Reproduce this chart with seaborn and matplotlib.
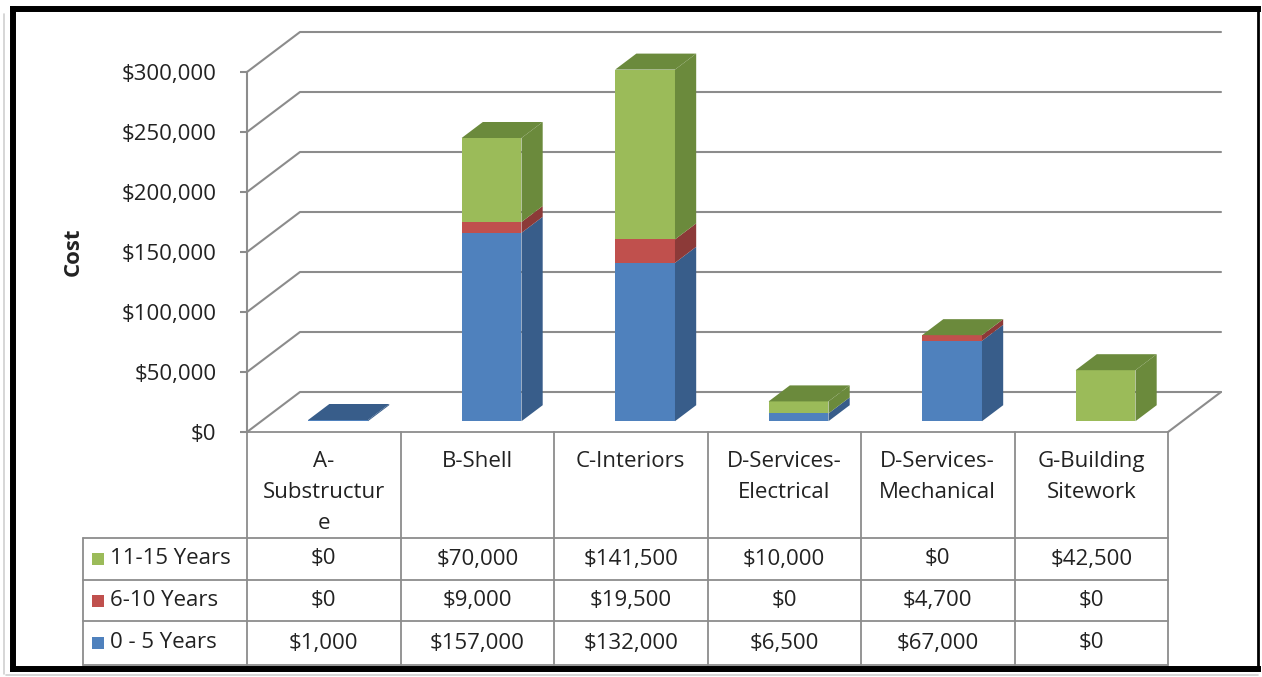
import numpy as np
import pandas as pd
import matplotlib
matplotlib.use("Agg")
import matplotlib.pyplot as plt
import matplotlib.transforms as mtransforms
from matplotlib.patches import Polygon, Rectangle
from matplotlib.lines import Line2D
import seaborn as sns

# ---- data -------------------------------------------------------------
categories = ["A-Substructure", "B-Shell", "C-Interiors",
              "D-Services-Electrical", "D-Services-Mechanical",
              "G-Building Sitework"]
header_labels = ["A-\nSubstructur\ne", "B-Shell", "C-Interiors",
                 "D-Services-\nElectrical", "D-Services-\nMechanical",
                 "G-Building\nSitework"]
# stacking order, bottom to top
series_names = ["0 - 5 Years", "6-10 Years", "11-15 Years"]
cost_0_5 = [1000, 157000, 132000, 6500, 67000, 0]
cost_6_10 = [0, 9000, 19500, 0, 4700, 0]
cost_11_15 = [0, 70000, 141500, 10000, 0, 42500]
y_ticks = [0, 50000, 100000, 150000, 200000, 250000, 300000]

front_colors = ["#4F81BD", "#C0504D", "#9BBB59"]
shade_colors = ["#385D8A", "#8C3A38", "#6B8A3C"]
GRID = "#8C8C8C"
TEXT = "#222222"

# ---- figure layout (pixels) ------------------------------------------
W, H = 1262, 677
sns.set_theme(style="white")
plt.rcParams["font.family"] = ["Open Sans", "DejaVu Sans"]
plt.rcParams["font.size"] = 16

fig = plt.figure(figsize=(W / 100, H / 100), dpi=100)
fig.patch.set_facecolor("white")


def fx(px):
    return px / W


def fy(py):
    return 1 - py / H


PL, PR, PT, PB = 247, 1168, 72, 432          # front plane of the plot
ax = fig.add_axes([fx(PL), fy(PB), (PR - PL) / W, (PB - PT) / H])
ax.set_facecolor("none")

n = len(categories)
stack = np.vstack([cost_0_5, cost_6_10, cost_11_15])
cum = np.cumsum(stack, axis=0)

rows = []
for k, name in enumerate(series_names):
    for i, cat in enumerate(categories):
        rows.append({"category": cat, "series": name, "top": cum[k, i]})
df = pd.DataFrame(rows)

BAR_W = 0.39
sns.barplot(data=df, x="category", y="top", hue="series",
            order=categories, hue_order=series_names[::-1],
            palette=dict(zip(series_names, front_colors)),
            dodge=False, width=BAR_W, errorbar=None, saturation=1,
            linewidth=0, legend=False, zorder=3, ax=ax)

ax.set_xlim(-0.5, n - 0.5)
ax.set_ylim(0, 300000)

# depth of the floor expressed in data units
x_per_px = n / (PR - PL)
y_per_px = 300000 / (PB - PT)
DEPTH_X = 53 * x_per_px
DEPTH_Y = 40 * y_per_px
BAR_FRONT = 0.27
BAR_DEPTH = 0.40

shift = (mtransforms.Affine2D().translate(BAR_FRONT * DEPTH_X,
                                          BAR_FRONT * DEPTH_Y)
         + ax.transData)
for p in ax.patches:
    p.set_transform(shift)
    p.set_clip_on(False)

# side and top faces of each column
bdx, bdy = BAR_DEPTH * DEPTH_X, BAR_DEPTH * DEPTH_Y
half = BAR_W / 2
for i in range(n):
    lo = 0
    for k in range(len(series_names)):
        hi = cum[k, i]
        if hi > lo:
            ax.add_patch(Polygon([(i + half, lo), (i + half, hi),
                                  (i + half + bdx, hi + bdy),
                                  (i + half + bdx, lo + bdy)],
                                 closed=True, fc=shade_colors[k], ec="none",
                                 transform=shift, zorder=3, clip_on=False))
        lo = hi
    # the lid belongs to the highest segment; an empty segment still gets
    # its lid once the column beneath it is tall enough to show
    k_top = 0
    for k in range(len(series_names)):
        if stack[k, i] > 0 or cum[k, i] > 0.02 * 300000:
            k_top = k
    top = cum[k_top, i]
    ax.add_patch(Polygon([(i - half, top), (i + half, top),
                          (i + half + bdx, top + bdy),
                          (i - half + bdx, top + bdy)],
                         closed=True, fc=shade_colors[k_top], ec="none",
                         transform=shift, zorder=3, clip_on=False))

# side wall / back wall gridlines and floor edge
for v in y_ticks:
    ax.plot([-0.5, -0.5 + DEPTH_X, n - 0.5 + DEPTH_X],
            [v, v + DEPTH_Y, v + DEPTH_Y],
            color=GRID, lw=1.5, clip_on=False, zorder=1)
ax.plot([n - 0.5, n - 0.5 + DEPTH_X], [0, DEPTH_Y],
        color=GRID, lw=1.5, clip_on=False, zorder=1)

# value axis
for side in ["top", "right", "bottom"]:
    ax.spines[side].set_visible(False)
ax.spines["left"].set_color(GRID)
ax.spines["left"].set_linewidth(1.5)
ax.set_yticks(y_ticks)
ax.set_yticklabels([f"${v:,.0f}" for v in y_ticks])
ax.tick_params(axis="y", left=True, length=5, width=1.5, color=GRID,
               pad=17, labelcolor=TEXT, labelsize=16)
ax.tick_params(axis="x", bottom=False, labelbottom=False)
ax.set_xlabel("")
ax.set_ylabel("")
fig.text(fx(73), fy(252), "Cost", rotation=90, ha="center", va="center",
         fontweight="bold", fontsize=16, color=TEXT)

# ---- data table -------------------------------------------------------
blend = mtransforms.blended_transform_factory(ax.transData, ax.transAxes)


def ay(py):
    return (PB - py) / (PB - PT)


TABLE_LEFT = -0.5 + (83 - PL) * x_per_px
row_lines = [538, 580, 621, 665]
line_kw = dict(color=GRID, lw=1.3, transform=blend, clip_on=False, zorder=2)

ax.add_line(Line2D([-0.5, n - 0.5], [ay(PB), ay(PB)], **line_kw))
for py in row_lines:
    ax.add_line(Line2D([TABLE_LEFT, n - 0.5], [ay(py), ay(py)], **line_kw))
for i in range(n + 1):
    ax.add_line(Line2D([i - 0.5, i - 0.5], [ay(PB), ay(row_lines[-1])],
                       **line_kw))
ax.add_line(Line2D([TABLE_LEFT, TABLE_LEFT],
                   [ay(row_lines[0]), ay(row_lines[-1])], **line_kw))

for i, lab in enumerate(header_labels):
    ax.text(i, ay(451), lab, ha="center", va="top", transform=blend,
            fontsize=16, color=TEXT, linespacing=1.62)

table_rows = [(2, cost_11_15), (1, cost_6_10), (0, cost_0_5)]
for r, (k, values) in enumerate(table_rows):
    yc = (row_lines[r] + row_lines[r + 1]) / 2
    for i, v in enumerate(values):
        ax.text(i, ay(yc), f"${v:,.0f}", ha="center", va="center",
                transform=blend, fontsize=16, color=TEXT)
    fig.add_artist(Rectangle((fx(92), fy(yc + 6)), 12 / W, 12 / H,
                             transform=fig.transFigure,
                             fc=front_colors[k], ec="none"))
    fig.text(fx(110), fy(yc), series_names[k], ha="left", va="center",
             fontsize=16, color=TEXT)

# ---- chart frame --------------------------------------------------------
frame_kw = dict(color="black", transform=fig.transFigure,
                solid_capstyle="projecting")
fig.add_artist(Line2D([fx(4), fx(4)], [fy(14), fy(674)], color="#CFCFCF",
                      lw=1.2, transform=fig.transFigure))
fig.add_artist(Line2D([fx(6), fx(1258)], [fy(675), fy(675)], color="#CFCFCF",
                      lw=1.2, transform=fig.transFigure))
fig.add_artist(Line2D([fx(12.5), fx(12.5)], [fy(9), fy(669)], lw=4.3,
                      **frame_kw))
fig.add_artist(Line2D([fx(12.5), fx(1258)], [fy(8.5), fy(8.5)], lw=4.3,
                      **frame_kw))
fig.add_artist(Line2D([fx(12.5), fx(1258)], [fy(669), fy(669)], lw=4.3,
                      **frame_kw))
fig.add_artist(Line2D([fx(1258), fx(1258)], [fy(8.5), fy(669)], lw=2,
                      color="black", transform=fig.transFigure))

fig.savefig("out.png", dpi=100, facecolor="white")
